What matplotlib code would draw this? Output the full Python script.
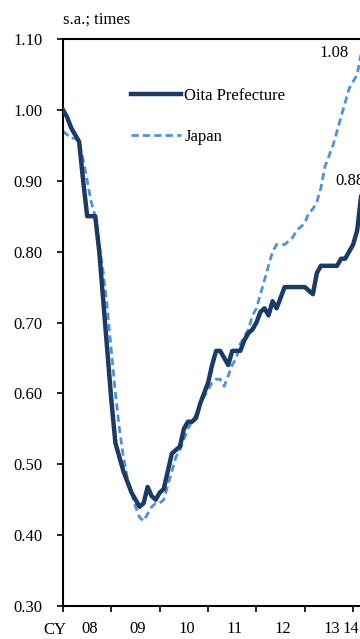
"""
Job-to-applicant ratio: Oita Prefecture vs Japan (monthly, s.a.).
"""

from matplotlib import pyplot as plt
import numpy as np

plt.rcParams['font.family'] = ['Liberation Serif', 'DejaVu Serif']

# monthly values from Jan 2008 (index 0) to Mar 2014
oita = [1.00, 0.99, 0.975, 0.965, 0.955, 0.90, 0.85, 0.85, 0.85, 0.80,
        0.73, 0.66, 0.59, 0.53, 0.51, 0.49, 0.475, 0.46, 0.45, 0.44,
        0.445, 0.468, 0.455, 0.45, 0.46, 0.465, 0.49, 0.515, 0.52, 0.525,
        0.55, 0.56, 0.56, 0.565, 0.585, 0.60, 0.615, 0.64, 0.66, 0.66,
        0.65, 0.64, 0.66, 0.66, 0.66, 0.675, 0.685, 0.69, 0.70, 0.715,
        0.72, 0.71, 0.73, 0.72, 0.735, 0.75, 0.75, 0.75, 0.75, 0.75,
        0.75, 0.745, 0.74, 0.77, 0.78, 0.78, 0.78, 0.78, 0.78, 0.79,
        0.79, 0.80, 0.81, 0.83, 0.88]
japan = [0.97, 0.965, 0.96, 0.96, 0.955, 0.93, 0.90, 0.87, 0.85, 0.81,
         0.77, 0.72, 0.66, 0.60, 0.55, 0.51, 0.48, 0.46, 0.44, 0.425,
         0.42, 0.43, 0.44, 0.445, 0.445, 0.45, 0.47, 0.49, 0.51, 0.52,
         0.535, 0.55, 0.56, 0.57, 0.585, 0.595, 0.605, 0.615, 0.62, 0.62,
         0.61, 0.625, 0.64, 0.65, 0.67, 0.68, 0.69, 0.71, 0.72, 0.74,
         0.76, 0.78, 0.80, 0.81, 0.81, 0.81, 0.815, 0.82, 0.83, 0.835,
         0.84, 0.855, 0.86, 0.87, 0.89, 0.92, 0.935, 0.95, 0.97, 0.99,
         1.01, 1.03, 1.04, 1.05, 1.08]
year_labels = ["08", "09", "10", "11", "12", "13", "14"]
y_ticks = [0.30, 0.40, 0.50, 0.60, 0.70, 0.80, 0.90, 1.00, 1.10]

months = np.arange(len(oita))

fig = plt.figure(figsize=(3.6, 6.39), dpi=100)
ax = fig.add_axes([63 / 360, 1 - 606 / 639, 84 * 4.03 / 360, 567 / 639])

ax.plot(months, oita, color="#1b3a66", lw=3.2, label="Oita Prefecture",
        solid_joinstyle="round", zorder=3)
ax.plot(months, japan, color="#5090dc", lw=2.0, dashes=(2.6, 1.5),
        label="Japan", zorder=2)

ax.set_xlim(0, 84)
ax.set_ylim(0.30, 1.10)

for side in ["top", "left", "bottom"]:
    ax.spines[side].set_linewidth(1.5)
ax.spines["right"].set_visible(False)

ax.set_yticks(y_ticks)
ax.set_yticklabels(["%.2f" % v for v in y_ticks])
ax.tick_params(axis="y", direction="out", length=4.5, width=1.2, pad=10,
               labelsize=12)

ax.set_xticks(np.arange(0, 84, 12))
ax.set_xticklabels([])
ax.tick_params(axis="x", which="major", direction="out", length=4.5,
               width=1.2)
label_pos = [6.0 + 12 * i + 0.6 for i in range(len(year_labels) - 1)] + [71.5]
ax.set_xticks(label_pos, minor=True)
ax.set_xticklabels(year_labels, minor=True)
ax.tick_params(axis="x", which="minor", length=0, pad=11, labelsize=12)

ax.text(-2, -0.043, "CY", transform=ax.get_xaxis_transform(),
        ha="center", va="center", fontsize=12, clip_on=False)
ax.text(-0.01, 1.10 + 0.027, "s.a.; times", ha="left", va="center",
        fontsize=12, clip_on=False)

# end-point labels
ax.text(67.2, japan[-1], "%.2f" % japan[-1], ha="center",
        va="center", fontsize=12)
ax.text(67.6, oita[-1] + 0.02, "%.2f" % oita[-1], ha="left", va="center",
        fontsize=12)

ax.legend(loc="upper left", bbox_to_anchor=(131 / 360, 1 - 88 / 639),
          bbox_transform=fig.transFigure, frameon=False, fontsize=12,
          handlelength=3.0, handletextpad=0.2, labelspacing=1.5,
          borderpad=0, borderaxespad=0)

fig.savefig("out.png", dpi=100)
